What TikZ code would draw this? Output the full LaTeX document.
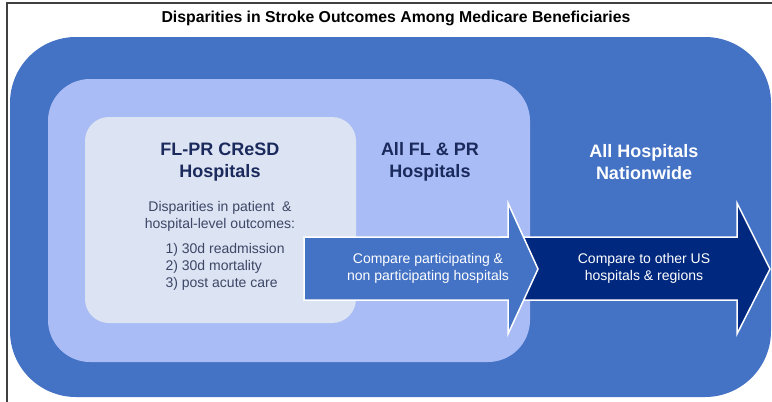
\documentclass[tikz,border=0pt]{standalone}
\usepackage{fontspec}
\setmainfont{Liberation Sans}
\definecolor{outerblue}{HTML}{4472C4}
\definecolor{lightblue}{HTML}{A9BCF5}
\definecolor{paleblue}{HTML}{DCE3F3}
\definecolor{navy}{HTML}{00287F}
\definecolor{headtext}{HTML}{1B2A5C}
\definecolor{bodytext}{HTML}{3C4766}

\begin{document}
\begin{tikzpicture}[x=1pt, y=-1pt,
  head/.style={font=\fontsize{18}{21.5}\selectfont\bfseries, align=center},
  body/.style={font=\fontsize{14}{17}\selectfont, align=center},
  arrowbox/.style={draw=white, line width=1.5pt, line join=miter}]
\useasboundingbox (0,0) rectangle (772,402);

  % frame
  \draw[line width=1.2pt, black!75] (7,402) -- (7,3) -- (772,3);
  \node[font=\fontsize{15.8}{18}\selectfont\bfseries] (title) at (396,18)
        {Disparities in Stroke Outcomes Among Medicare Beneficiaries};

  % nested regions
  \fill[outerblue, rounded corners=66pt] (10,37) rectangle (771,397);
  \fill[lightblue, rounded corners=42pt] (48,79) rectangle (530,362);
  \fill[paleblue, rounded corners=24pt] (85,117) rectangle (356,323);

  % arrows
  \filldraw[arrowbox, fill=navy] (500,237) -- (737,237) -- (737,203) -- (770,269)
        -- (737,334) -- (737,300) -- (500,300) -- cycle;
  \filldraw[arrowbox, fill=outerblue] (304,237) -- (508,237) -- (508,203) -- (538,269)
        -- (508,334) -- (508,300) -- (304,300) -- cycle;

  % region labels
  \node[head, text=headtext] (cresd) at (220,162) {FL-PR CReSD\\Hospitals};
  \node[body, text=bodytext] (outcomes) at (220,216)
        {Disparities in patient~~\&\\hospital-level outcomes:};
  \node[body, text=bodytext, align=left, anchor=west] (list) at (162,267)
        {1) 30d readmission\\2) 30d mortality\\3) post acute care};
  \node[head, text=headtext] (flpr) at (430,162) {All FL \& PR\\Hospitals};
  \node[head, text=white] (nation) at (644,162) {All Hospitals\\Nationwide};

  % arrow labels
  \node[body, text=white] (compare) at (428,268)
        {Compare participating \&\\non participating hospitals};
  \node[body, text=white] (others) at (644,268)
        {Compare to other US\\hospitals \& regions};
\end{tikzpicture}
\end{document}
